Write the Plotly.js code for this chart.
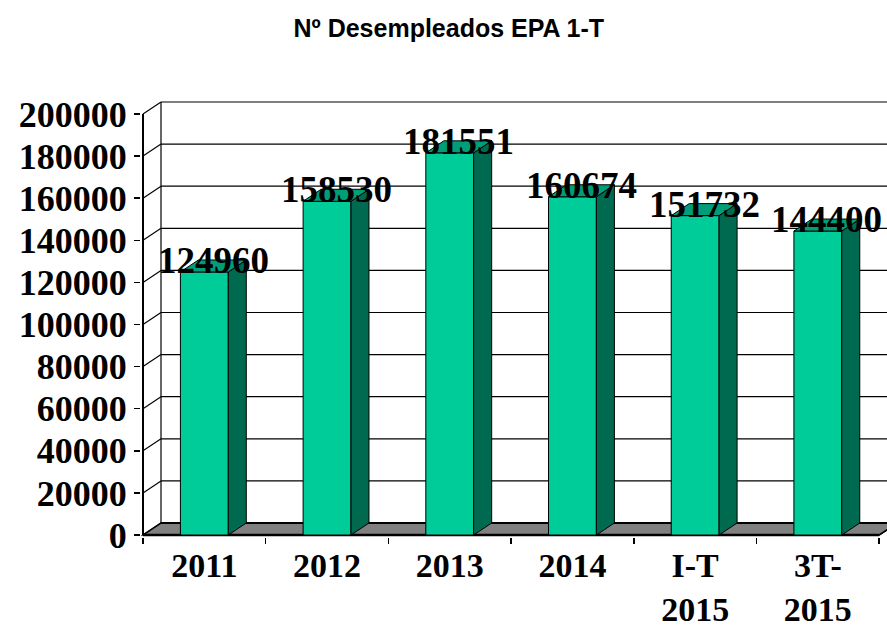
<!DOCTYPE html>
<html>
<head>
<meta charset="utf-8">
<script src="https://cdn.plot.ly/plotly-3.0.1.min.js"></script>
<style>html,body{margin:0;padding:0;background:#fff;}#chart{width:887px;height:632px;}</style>
</head>
<body>
<div id="chart"></div>
<script>
// ---- data ----
const categories = ['2011', '2012', '2013', '2014', 'I-T 2015', '3T- 2015'];
const tickLabels = ['2011', '2012', '2013', '2014', 'I-T<br>2015', '3T-<br>2015'];
const values = [124960, 158530, 181551, 160674, 151732, 144400];
const yTickVals = [0, 20000, 40000, 60000, 80000, 100000, 120000, 140000, 160000, 180000, 200000];
const yMax = 200000;
const chartTitle = 'Nº Desempleados EPA 1-T';

// ---- style / geometry ----
const W = 887, H = 632;
const pxPerCat = 122.7;            // px per category
const frontLeft = 143, frontBottom = 535, frontTop = 114, backTop = 102;
const pxPerY = (frontBottom - frontTop) / yMax;
const slack = 2;
const depthPxX = 18, depthPxY = 12;
const dX = depthPxX / pxPerCat;
const dY = depthPxY / pxPerY;
const barW = 0.39;
const n = categories.length;
const xs = categories.map((c, i) => i);

const plotL = frontLeft - slack, plotR = W, plotT = backTop - slack, plotB = frontBottom + slack;
const x0 = -0.5 - slack / pxPerCat;
const xRange = [x0, x0 + (plotR - plotL) / pxPerCat];
const yRange = [-slack / pxPerY, -slack / pxPerY + (plotB - plotT) / pxPerY];

const cFront = '#00CC99', cSide = '#006A50', cTop = '#009E78', cFloor = '#808080';
const serif = 'Liberation Serif, Times New Roman, serif';

// ---- traces ----
const barTrace = {
  type: 'bar', x: xs, y: values, width: barW,
  marker: {color: cFront, line: {color: '#000', width: 1}},
  hoverinfo: 'skip', showlegend: false
};
const sideX = [], sideY = [], topX = [], topY = [];
values.forEach((v, i) => {
  const l = xs[i] - barW / 2, r = xs[i] + barW / 2;
  sideX.push(r, r + dX, r + dX, r, r, null);
  sideY.push(0, dY, v + dY, v, 0, null);
  topX.push(l, l + dX, r + dX, r, l, null);
  topY.push(v, v + dY, v + dY, v, v, null);
});
const sideTrace = {type: 'scatter', mode: 'lines', x: sideX, y: sideY, fill: 'toself', fillcolor: cSide,
  line: {color: '#000', width: 1}, hoverinfo: 'skip', showlegend: false};
const topTrace = {type: 'scatter', mode: 'lines', x: topX, y: topY, fill: 'toself', fillcolor: cTop,
  line: {color: '#000', width: 1}, hoverinfo: 'skip', showlegend: false};

// ---- walls / floor as shapes below ----
const shapes = [];
const xL = -0.5, xRt = n - 0.5;
// floor
shapes.push({type: 'path', layer: 'below', xref: 'x', yref: 'y',
  path: `M ${xL} 0 L ${xRt} 0 L ${xRt + dX} ${dY} L ${xL + dX} ${dY} Z`,
  fillcolor: cFloor, line: {color: '#000', width: 1.5}});
// back gridlines + side wall slants
yTickVals.forEach(v => {
  shapes.push({type: 'line', layer: 'below', xref: 'x', yref: 'y', x0: xL + dX, x1: xRange[1] + 1, y0: v + dY, y1: v + dY,
    line: {color: '#000', width: v === 0 ? 2 : 1.2}});
  shapes.push({type: 'line', layer: 'below', xref: 'x', yref: 'y', x0: xL, x1: xL + dX, y0: v, y1: v + dY,
    line: {color: '#000', width: 1.2}});
});
// back wall left edge
shapes.push({type: 'line', layer: 'below', xref: 'x', yref: 'y', x0: xL + dX, x1: xL + dX, y0: dY, y1: yMax + dY,
  line: {color: '#000', width: 1.2}});
// front axis line
shapes.push({type: 'line', layer: 'below', xref: 'x', yref: 'y', x0: xL, x1: xL, y0: 0, y1: yMax,
  line: {color: '#000', width: 2}});
// front baseline
shapes.push({type: 'line', layer: 'below', xref: 'x', yref: 'y', x0: xL, x1: xRt, y0: 0, y1: 0,
  line: {color: '#000', width: 2.5}});
// floor right slant
shapes.push({type: 'line', layer: 'below', xref: 'x', yref: 'y', x0: xRt, x1: xRt + dX, y0: 0, y1: dY,
  line: {color: '#000', width: 1.5}});

// ---- data labels ----
const annotations = values.map((v, i) => ({
  x: xs[i] + dX / 2, y: v, xref: 'x', yref: 'y', text: String(v), showarrow: false,
  xanchor: 'center', yanchor: 'bottom', yshift: -11,
  font: {family: serif, size: 37, color: '#000', weight: 'bold'}
}));

const boundaries = [];
for (let i = 0; i <= n; i++) boundaries.push(i - 0.5);

const layout = {
  width: W, height: H,
  margin: {l: plotL, r: W - plotR, t: plotT, b: H - plotB, pad: 0},
  paper_bgcolor: '#fff', plot_bgcolor: 'rgba(0,0,0,0)',
  showlegend: false,
  title: {text: chartTitle, x: 0.506, xanchor: 'center', yref: 'container', y: 1 - 28 / H, yanchor: 'middle',
    font: {family: 'Liberation Sans, Arial, sans-serif', size: 25, color: '#000', weight: 'bold'}},
  xaxis: {range: xRange, tickmode: 'array', tickvals: xs, ticktext: tickLabels, ticks: '',
    showgrid: false, zeroline: false, showline: false, fixedrange: true, ticklabelstandoff: 5,
    tickfont: {family: serif, size: 34, color: '#000', weight: 'bold'},
    minor: {tickmode: 'array', tickvals: boundaries, ticks: 'outside', ticklen: 6, tickcolor: '#000', tickwidth: 1.5, showgrid: false}},
  yaxis: {range: yRange, tickmode: 'array', tickvals: yTickVals, ticktext: yTickVals.map(String),
    ticks: 'outside', ticklen: 6, tickcolor: '#000', tickwidth: 1.5,
    showgrid: false, zeroline: false, showline: false, fixedrange: true,
    tickfont: {family: serif, size: 36, color: '#000', weight: 'bold'}},
  shapes: shapes,
  annotations: annotations
};

Plotly.newPlot('chart', [barTrace, sideTrace, topTrace], layout, {staticPlot: true, displayModeBar: false});
</script>
</body>
</html>
